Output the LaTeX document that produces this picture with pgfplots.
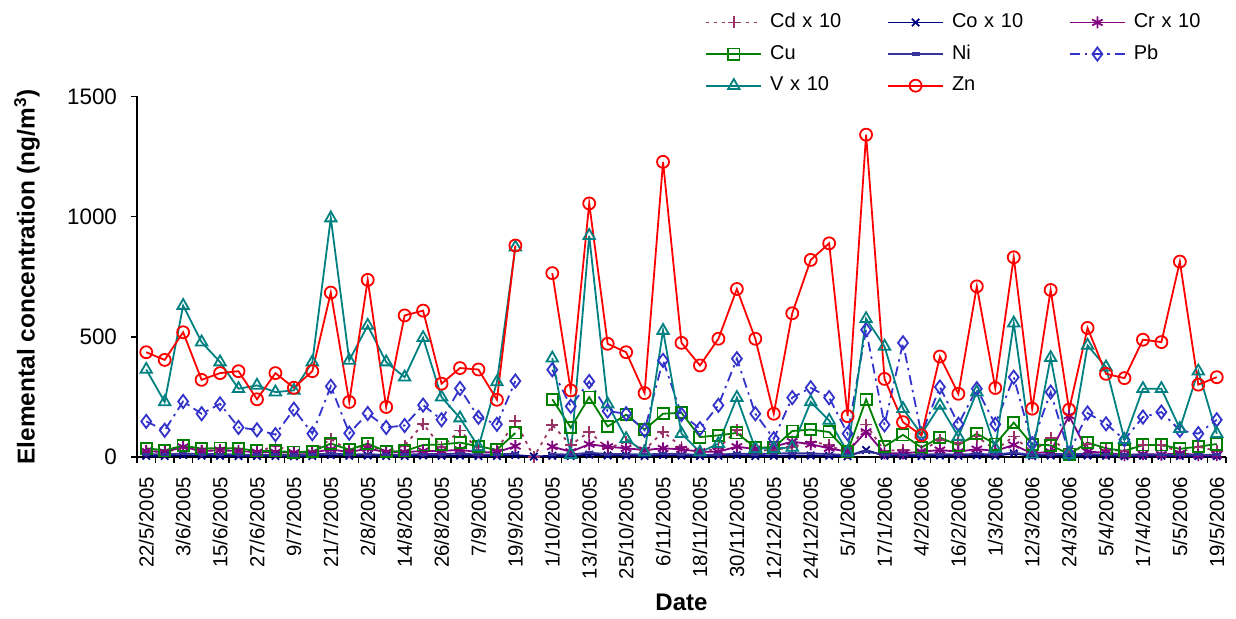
\documentclass[border=0pt]{standalone}
\usepackage{fontspec}
\setmainfont{Liberation Sans}
\usepackage{pgfplots}
\pgfplotsset{compat=1.18}
\usepackage{pgfplotstable}

\definecolor{cdcol}{HTML}{993366}
\definecolor{cocol}{HTML}{000080}
\definecolor{crcol}{HTML}{800080}
\definecolor{cucol}{HTML}{008000}
\definecolor{nicol}{HTML}{333399}
\definecolor{pbcol}{HTML}{3333CC}
\definecolor{vcol}{HTML}{008080}
\definecolor{zncol}{HTML}{FF0000}

\pgfplotstableread{
i Cd Co Cr Cu Ni Pb V Zn
0 25 5 25 36 12 148 364 436
1 22 4 20 28 10 111 229 404
2 35 8 42 47 15 231 630 519
3 25 5 25 35 12 180 478 321
4 28 5 28 37 12 221 395 349
5 25 4 25 36 10 123 284 357
6 20 4 20 25 9 113 298 240
7 47 4 20 25 9 93 270 349
8 20 3 18 20 8 199 277 288
9 22 4 18 23 10 97 395 357
10 75 8 32 56 15 294 994 684
11 25 5 20 30 10 99 402 229
12 45 6 35 56 12 181 547 737
13 25 4 20 23 9 123 395 208
14 47 4 20 25 10 131 332 589
15 138 6 25 50 12 216 496 609
16 40 5 25 52 12 155 249 305
17 110 6 30 60 14 285 162 370
18 30 4 20 44 10 165 42 364
19 30 4 20 30 10 136 312 238
20 150 8 45 100 15 316 873 880
21 0 2 nan nan nan nan nan nan
22 133 5 43 240 12 363 411 765
23 50 4 22 122 10 211 10 277
24 105 10 53 249 18 314 921 1055
25 36 6 43 127 12 191 220 471
26 64 6 36 176 12 180 76 436
27 29 4 29 114 10 111 20 266
28 105 8 36 180 14 402 526 1228
29 43 6 32 184 12 177 97 475
30 20 4 22 83 9 118 20 381
31 36 5 22 90 10 215 55 492
32 112 8 43 100 14 409 247 699
33 25 4 33 39 12 180 35 492
34 30 5 43 39 14 76 35 180
35 40 6 64 108 16 247 40 598
36 64 6 53 114 15 288 229 820
37 50 5 36 104 12 247 152 889
38 15 3 22 21 8 97 20 170
39 135 29 105 240 22 529 575 1341
40 25 5 15 44 10 134 460 325
41 30 5 15 92 10 475 201 145
42 25 4 22 40 10 94 95 90
43 71 6 29 81 12 291 215 418
44 57 5 22 49 10 136 85 263
45 85 7 33 97 13 284 270 710
46 30 5 25 54 10 136 35 287
47 85 15 50 143 18 332 557 831
48 20 4 15 52 9 55 12 201
49 80 6 22 49 12 270 413 695
50 15 4 172 12 12 15 10 197
51 53 6 22 60 12 183 464 537
52 30 5 18 36 10 138 374 346
53 26 4 8 25 8 72 72 328
54 50 5 12 50 10 166 284 488
55 50 5 10 50 10 187 284 478
56 20 4 15 34 9 111 118 813
57 43 4 8 43 9 97 357 301
58 25 4 8 54 9 155 97 332
}\data

\begin{document}
\begin{tikzpicture}
\useasboundingbox (0,0) rectangle (618pt,309.5pt);
\begin{axis}[
  at={(68.5pt,81pt)}, anchor=south west,
  scale only axis, width=544.5pt, height=180.25pt,
  xmin=-0.5, xmax=58.5, ymin=0, ymax=1500,
  axis x line*=bottom, axis y line*=left,
  axis line style={line width=0.8pt, -, black},
  tick align=outside,
  ytick={0,500,1000,1500},
  xtick={0,2,...,58},
  xticklabels={22/5/2005,3/6/2005,15/6/2005,27/6/2005,9/7/2005,21/7/2005,2/8/2005,14/8/2005,26/8/2005,7/9/2005,19/9/2005,1/10/2005,13/10/2005,25/10/2005,6/11/2005,18/11/2005,30/11/2005,12/12/2005,24/12/2005,5/1/2006,17/1/2006,4/2/2006,16/2/2006,1/3/2006,12/3/2006,24/3/2006,5/4/2006,17/4/2006,5/5/2006,19/5/2006},
  minor xtick={-0.5,0.5,...,58.5},
  major tick length=3pt, minor tick length=3pt,
  major x tick style={draw=none},
  tick style={line width=0.8pt, black},
  xticklabel style={rotate=90, anchor=east, font=\fontsize{10.2}{12}\selectfont, xshift=-3.5pt},
  yticklabel style={font=\fontsize{11.2}{13}\selectfont, xshift=-3.5pt},
  /pgf/number format/assume math mode=true,
  /pgf/number format/1000 sep={},
  ylabel={\fontsize{12.2}{14}\selectfont\bfseries Elemental concentration (ng/m\textsuperscript{3})},
  ylabel style={at={(axis description cs:-0.101,0.5)}, anchor=center},
  xlabel={\fontsize{12}{14}\selectfont\bfseries Date},
  xlabel style={at={(axis description cs:0.5,0)}, anchor=center, yshift=-72.5pt},
  unbounded coords=jump,
  legend columns=3,
  legend cell align=left,
  legend image code/.code={\draw[mark repeat=2,mark phase=2,#1] plot coordinates {(0pt,0pt) (13.75pt,0pt) (27.5pt,0pt)};},
  legend style={at={(axis description cs:0,1)}, anchor=north west, xshift=284pt, yshift=45.1pt,
    draw=none, fill=none, inner sep=0pt,
    nodes={text width=54.5pt, text height=7.5pt, text depth=2.5pt, inner xsep=4pt, inner ysep=2.9pt}},
]
\addplot[cdcol, line width=0.9pt, dash pattern=on 1.5pt off 2.5pt, mark=+, mark size=3pt, mark options={solid}] table[x=i,y=Cd]{\data};
\addlegendentry{Cd x 10}
\addplot[cocol, line width=0.9pt, mark=x, mark size=2.6pt, mark options={solid}] table[x=i,y=Co]{\data};
\addlegendentry{Co x 10}
\addplot[crcol, line width=0.9pt, mark=asterisk, mark size=3pt, mark options={solid}] table[x=i,y=Cr]{\data};
\addlegendentry{Cr x 10}
\addplot[cucol, line width=0.9pt, mark=square, mark size=2.8pt, mark options={solid}] table[x=i,y=Cu]{\data};
\addlegendentry{Cu}
\addplot[nicol, line width=0.9pt, mark=-, mark size=2pt, mark options={solid, line width=1.6pt}] table[x=i,y=Ni]{\data};
\addlegendentry{Ni}
\addplot[pbcol, line width=0.9pt, dash pattern=on 5pt off 2.5pt on 1.2pt off 2.5pt, mark=diamond, mark size=3.3pt, mark options={solid}] table[x=i,y=Pb]{\data};
\addlegendentry{Pb}
\addplot[vcol, line width=0.9pt, mark=triangle, mark size=3.3pt, mark options={solid}] table[x=i,y=V]{\data};
\addlegendentry{V x 10}
\addplot[zncol, line width=0.9pt, mark=o, mark size=3pt, mark options={solid}] table[x=i,y=Zn]{\data};
\addlegendentry{Zn}
\end{axis}
\end{tikzpicture}
\end{document}
